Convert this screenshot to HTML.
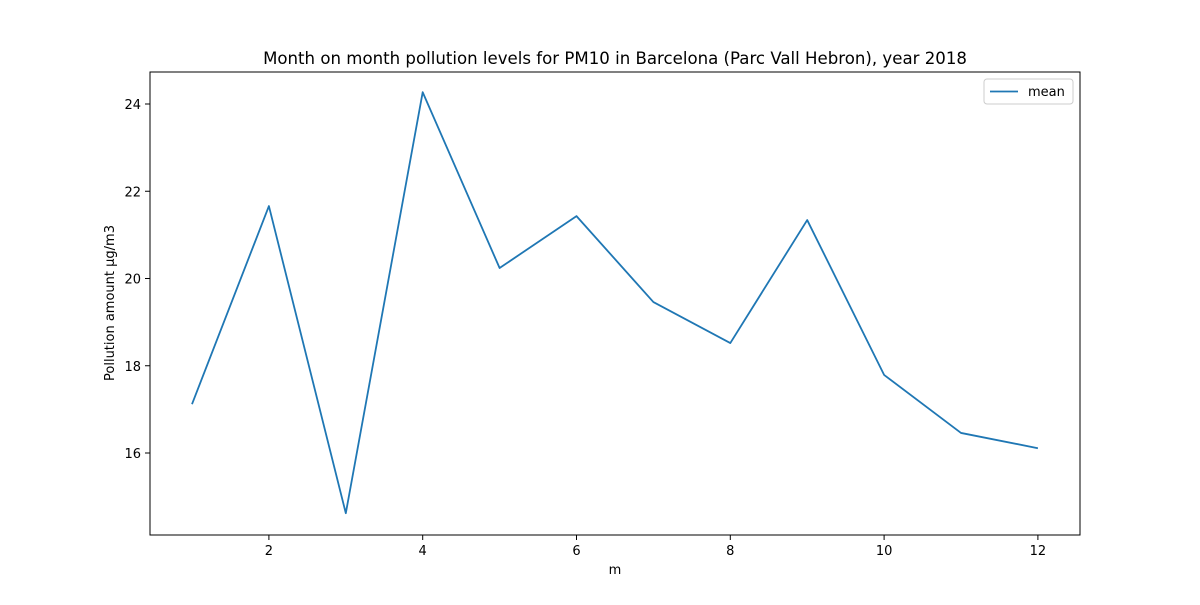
<!DOCTYPE html>
<html><head><meta charset="utf-8"><style>
body{margin:0;background:#fff;}
svg text{font-family:"DejaVu Sans","Liberation Sans",sans-serif;fill:#000;}
</style></head><body>
<svg id="chart" width="1200" height="600">
<rect width="1200" height="600" fill="#fff"/>
<text x="615" y="64" font-size="16.6" text-anchor="middle">Month on month pollution levels for PM10 in Barcelona (Parc Vall Hebron), year 2018</text>
<g id="xticks"></g><g id="yticks"></g>
<path id="line" fill="none" stroke="#1f77b4" stroke-width="1.8" stroke-linejoin="round"/>
<rect x="150" y="72" width="930" height="463" fill="none" stroke="#000" stroke-width="1"/>
<text x="615" y="574" font-size="13" text-anchor="middle">m</text>
<text transform="translate(114,303) rotate(-90)" font-size="13" text-anchor="middle">Pollution amount µg/m3</text>
<g>
<rect x="984" y="79" width="89" height="25" rx="3" fill="#fff" stroke="#ccc"/>
<line x1="990" y1="91.5" x2="1018" y2="91.5" stroke="#1f77b4" stroke-width="1.8"/>
<text x="1028" y="96" font-size="13">mean</text>
</g>
</svg>
<script>
const months=[1,2,3,4,5,6,7,8,9,10,11,12];
const meanValues=[17.12,21.66,14.62,24.27,20.24,21.43,19.46,18.52,21.34,17.79,16.46,16.11];
const xTickValues=[2,4,6,8,10,12];
const yTickValues=[16,18,20,22,24];
const NS="http://www.w3.org/2000/svg";
function xs(v){return 192+(v-1)*76.9;}
function ys(v){return 453-(v-16)*43.625;}
const d=months.map((m,i)=>(i?'L':'M')+xs(m)+','+ys(meanValues[i])).join(' ');
document.getElementById('line').setAttribute('d',d);
const xg=document.getElementById('xticks');
xTickValues.forEach(v=>{
 const l=document.createElementNS(NS,'line');
 l.setAttribute('x1',xs(v));l.setAttribute('x2',xs(v));l.setAttribute('y1',535);l.setAttribute('y2',540);l.setAttribute('stroke','#000');
 
 
 xg.appendChild(l);
 const t=document.createElementNS(NS,'text');
 t.setAttribute('x',xs(v));t.setAttribute('y',555);t.setAttribute('font-size','13');t.setAttribute('text-anchor','middle');t.textContent=v;
 
 
 xg.appendChild(t);
});
const yg=document.getElementById('yticks');
yTickValues.forEach(v=>{
 const l=document.createElementNS(NS,'line');
 l.setAttribute('x1',145);l.setAttribute('x2',150);l.setAttribute('y1',ys(v));l.setAttribute('y2',ys(v));l.setAttribute('stroke','#000');
 
 
 yg.appendChild(l);
 const t=document.createElementNS(NS,'text');
 t.setAttribute('x',141);t.setAttribute('y',ys(v)+5);t.setAttribute('font-size','13');t.setAttribute('text-anchor','end');t.textContent=v;
 
 
 yg.appendChild(t);
});
</script>
</body></html>
